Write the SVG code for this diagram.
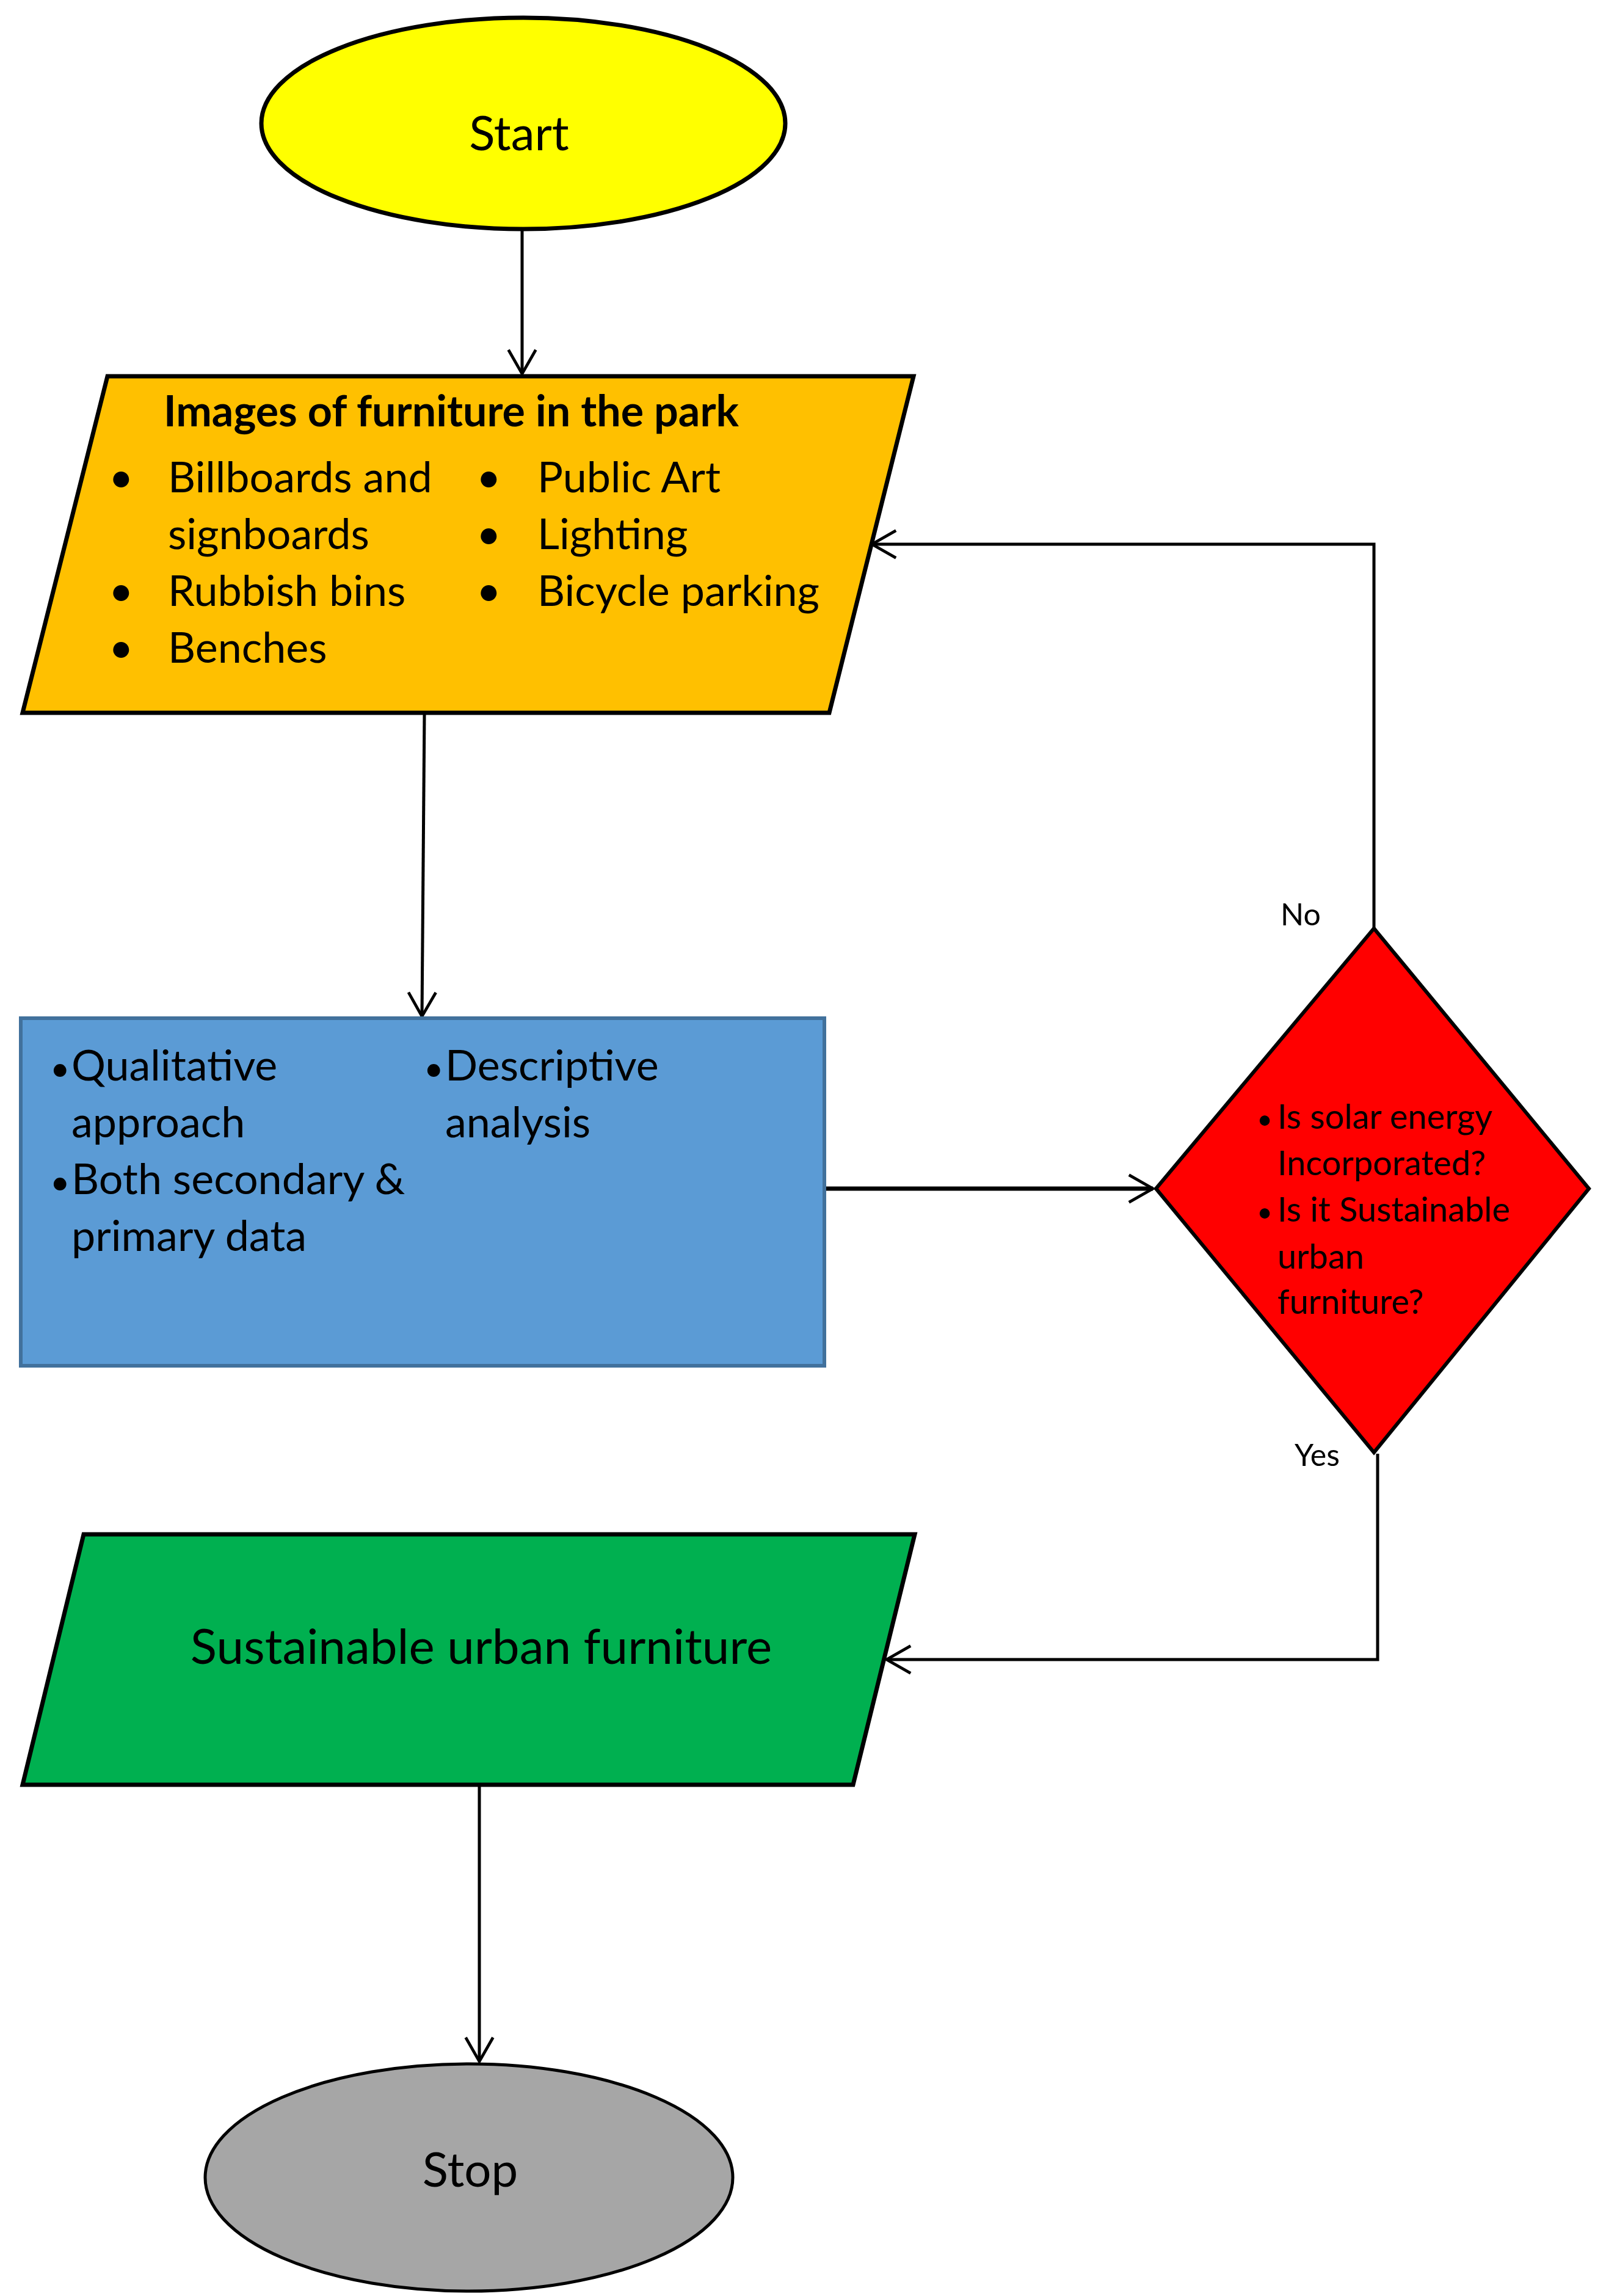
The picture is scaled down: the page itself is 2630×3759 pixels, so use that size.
<svg xmlns="http://www.w3.org/2000/svg" width="2630" height="3759" viewBox="0 0 2630 3759">
<style>
text{font-family:Lato,"Open Sans","Liberation Sans",sans-serif;fill:#000}
.n{stroke:#000;stroke-width:7}
.c{fill:none;stroke:#000;stroke-width:5}
.t{font-size:70px}
.r{font-size:56px;fill:#C00000}
.l{font-size:50px}
</style>
<defs>
<marker id="a" viewBox="0 0 20 20" refX="19" refY="10" markerWidth="16" markerHeight="16" markerUnits="userSpaceOnUse" orient="auto" overflow="visible">
<path d="M-30,-18 L19,10 L-30,38" fill="none" stroke="#000" stroke-width="6"/>
</marker>
</defs>
<g id="connectors">
<path class="c" d="M855,376 V612" marker-end="url(#a)"/>
<path class="c" d="M695,1169 L691,1664" marker-end="url(#a)"/>
<path class="c" d="M1350,1946 H1888" style="stroke-width:7" marker-end="url(#a)"/>
<path class="c" d="M2250,1520 V891 H1428" marker-end="url(#a)"/>
<path class="c" d="M2256,2380 V2717 H1452" marker-end="url(#a)"/>
<path class="c" d="M785,2905 V3375" marker-end="url(#a)"/>
<text class="l" x="2097" y="1515">No</text>
<text class="l" x="2120" y="2400">Yes</text>
</g>
<g id="start">
<ellipse class="n" cx="857" cy="202" rx="429" ry="173" fill="#FFFF00"/>
<text x="850" y="246" font-size="78" text-anchor="middle">Start</text>
</g>
<g id="images">
<polygon class="n" points="176,616 1496,616 1358,1167 37,1167" fill="#FFC000"/>
<text class="t" x="268" y="698" font-weight="bold">Images of furniture in the park</text>
<g class="t">
<text x="178" y="806">•</text><text x="275" y="806">Billboards and</text>
<text x="275" y="899">signboards</text>
<text x="178" y="992">•</text><text x="275" y="992">Rubbish bins</text>
<text x="178" y="1085">•</text><text x="275" y="1085">Benches</text>
<text x="780" y="806">•</text><text x="880" y="806">Public Art</text>
<text x="780" y="899">•</text><text x="880" y="899">Lighting</text>
<text x="780" y="992">•</text><text x="880" y="992">Bicycle parking</text>
</g>
</g>
<g id="methods">
<rect x="34" y="1667" width="1316" height="569" fill="#5B9BD5" stroke="#41719C" stroke-width="6"/>
<g class="t">
<text x="82" y="1769" font-size="56">•</text><text x="117" y="1769">Qualitative</text>
<text x="117" y="1862">approach</text>
<text x="82" y="1955" font-size="56">•</text><text x="117" y="1955">Both secondary &amp;</text>
<text x="117" y="2048">primary data</text>
<text x="694" y="1769" font-size="56">•</text><text x="729" y="1769">Descriptive</text>
<text x="729" y="1862">analysis</text>
</g>
</g>
<g id="decision">
<polygon class="n" points="2250,1520 2602,1946 2250,2378 1893,1946" fill="#FF0000" style="stroke-width:6"/>
<g class="r">
<text x="2058" y="1848" font-size="44">•</text><text x="2092" y="1848">Is solar energy</text>
<text x="2092" y="1924">Incorporated?</text>
<text x="2058" y="2000" font-size="44">•</text><text x="2092" y="2000">Is it Sustainable</text>
<text x="2092" y="2077">urban</text>
<text x="2092" y="2151">furniture?</text>
</g>
</g>
<g id="result">
<polygon class="n" points="137,2512 1498,2512 1397,2922 37,2922" fill="#00B050"/>
<text x="788" y="2724" font-size="80" text-anchor="middle">Sustainable urban furniture</text>
</g>
<g id="stop">
<ellipse class="n" cx="768" cy="3565" rx="432" ry="186" fill="#A6A6A6" style="stroke-width:5"/>
<text x="770" y="3580" font-size="78" text-anchor="middle">Stop</text>
</g>
</svg>
